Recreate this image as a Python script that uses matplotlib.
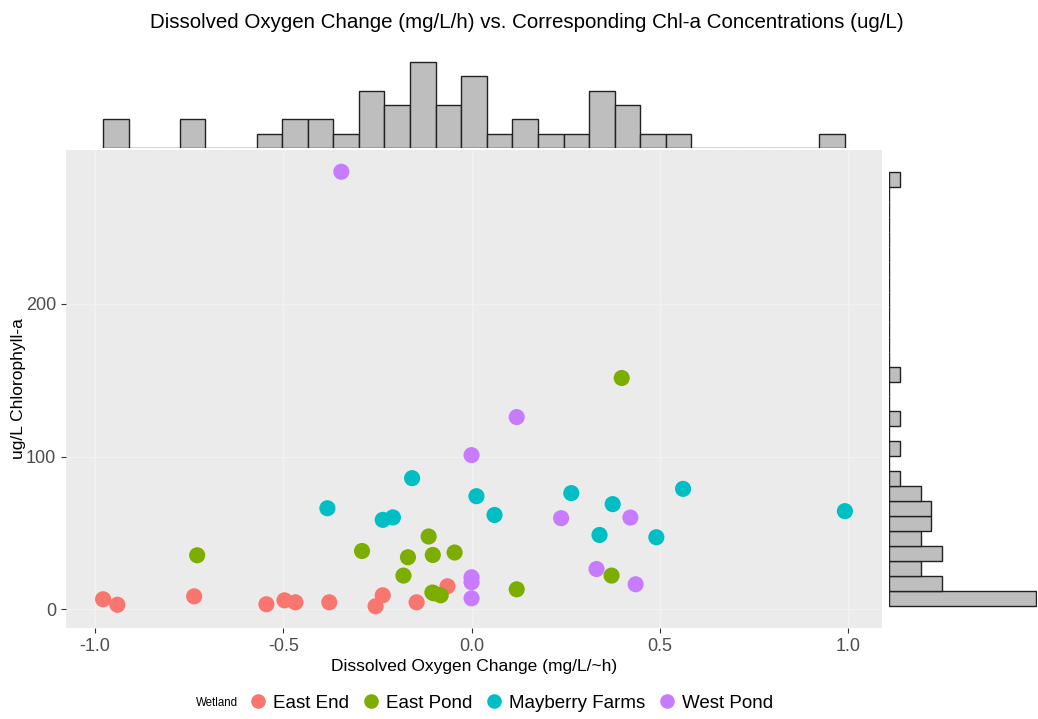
import numpy as np
import matplotlib
matplotlib.use("Agg")
import matplotlib.pyplot as plt
from matplotlib.lines import Line2D

plt.rcParams['font.family'] = ['Liberation Sans', 'DejaVu Sans']

# dissolved oxygen change (mg/L/h) and chl-a (ug/L) per wetland
east_end_x = [-0.979, -0.941, -0.737, -0.545, -0.497, -0.468, -0.378, -0.255, -0.236, -0.146, -0.064]
east_end_y = [6.6, 3.0, 8.5, 3.3, 5.9, 4.6, 4.6, 2.0, 9.2, 4.6, 15.1]

east_pond_x = [-0.729, -0.291, -0.114, -0.169, -0.103, -0.045, -0.181, -0.104, -0.082, -0.100, 0.120, 0.399, 0.372]
east_pond_y = [35.4, 38.2, 47.7, 34.1, 35.6, 37.2, 22.1, 11.0, 9.2, 10.5, 13.1, 151.5, 22.1]

mayberry_x = [-0.383, -0.158, -0.236, -0.209, 0.013, 0.061, 0.265, 0.375, 0.340, 0.491, 0.562, 0.992]
mayberry_y = [66.2, 85.9, 58.6, 60.2, 74.1, 61.8, 76.1, 68.9, 48.7, 47.2, 78.9, 64.3]

west_pond_x = [-0.346, 0.120, 0.0, 0.0, 0.0, 0.0, 0.238, 0.422, 0.332, 0.436]
west_pond_y = [286.6, 125.9, 101.0, 21.0, 17.7, 7.2, 59.7, 60.1, 26.4, 16.4]

wetlands = ["East End", "East Pond", "Mayberry Farms", "West Pond"]
colors = ["#F8766D", "#7CAE00", "#00BFC4", "#C77CFF"]
xs = [east_end_x, east_pond_x, mayberry_x, west_pond_x]
ys = [east_end_y, east_pond_y, mayberry_y, west_pond_y]

all_x = np.concatenate([np.array(v) for v in xs])
all_y = np.concatenate([np.array(v) for v in ys])

W, H = 1038, 719
fig = plt.figure(figsize=(W / 100, H / 100), dpi=100)

# main panel and the two marginal histograms
ax = fig.add_axes([66 / W, 1 - 628 / H, (882 - 66) / W, (628 - 150) / H])
ax_top = fig.add_axes([66 / W, 1 - 148 / H, (882 - 66) / W, (148 - 55) / H], sharex=ax)
ax_right = fig.add_axes([889 / W, 1 - 628 / H, (1037 - 889) / W, (628 - 150) / H], sharey=ax)

ax.set_facecolor("#EBEBEB")
for name, c, x, y in zip(wetlands, colors, xs, ys):
    ax.scatter(x, y, s=135, color=c, edgecolors="none", zorder=3)

xr = all_x.max() - all_x.min()
yr = all_y.max() - all_y.min()
ax.set_xlim(all_x.min() - 0.05 * xr, all_x.max() + 0.05 * xr)
ax.set_ylim(all_y.min() - 0.05 * yr, all_y.max() + 0.05 * yr)

ax.set_xticks([-1.0, -0.5, 0.0, 0.5, 1.0])
ax.set_xticklabels(["-1.0", "-0.5", "0.0", "0.5", "1.0"])
ax.set_yticks([0, 100, 200])
ax.grid(True, color="#F1F1F1", linewidth=1.0, zorder=0)
ax.set_axisbelow(True)
for s in ax.spines.values():
    s.set_visible(False)
ax.tick_params(colors="#333333", labelcolor="#4D4D4D", labelsize=13, length=3.5, width=0.8)

ax.set_xlabel("Dissolved Oxygen Change (mg/L/~h)", fontsize=12.5, labelpad=3)
ax.set_ylabel("ug/L Chlorophyll-a", fontsize=12.5, labelpad=0)

# marginal histograms, 29 bins over the data range
ax_top.hist(all_x, bins=29, color="#BEBEBE", edgecolor="#222222", linewidth=1.0)
top_counts, _ = np.histogram(all_x, bins=29)
ax_top.set_ylim(0, top_counts.max() * 1.08)
ax_top.axis("off")

ax_right.hist(all_y, bins=29, orientation="horizontal", color="#BEBEBE", edgecolor="#222222", linewidth=1.0)
right_counts, _ = np.histogram(all_y, bins=29)
ax_right.set_xlim(0, right_counts.max() * 1.005)
ax_right.axis("off")

fig.text(527 / W, 1 - 22 / H,
         "Dissolved Oxygen Change (mg/L/h) vs. Corresponding Chl-a Concentrations (ug/L)",
         ha="center", va="center", fontsize=14.8)

# legend along the bottom
fig.text(196 / W, 1 - 703 / H, "Wetland", ha="left", va="center", fontsize=8.3)
handles = [Line2D([], [], marker="o", linestyle="none", markersize=10.5,
                  markerfacecolor=c, markeredgecolor="none") for c in colors]
fig.legend(handles, wetlands, ncol=4, loc="center left", bbox_to_anchor=(247 / W, 1 - 703 / H),
           frameon=False, fontsize=13.5, handlelength=1.2, handletextpad=0.2,
           columnspacing=0.55, borderaxespad=0, borderpad=0)

fig.savefig("out.png", dpi=100)
